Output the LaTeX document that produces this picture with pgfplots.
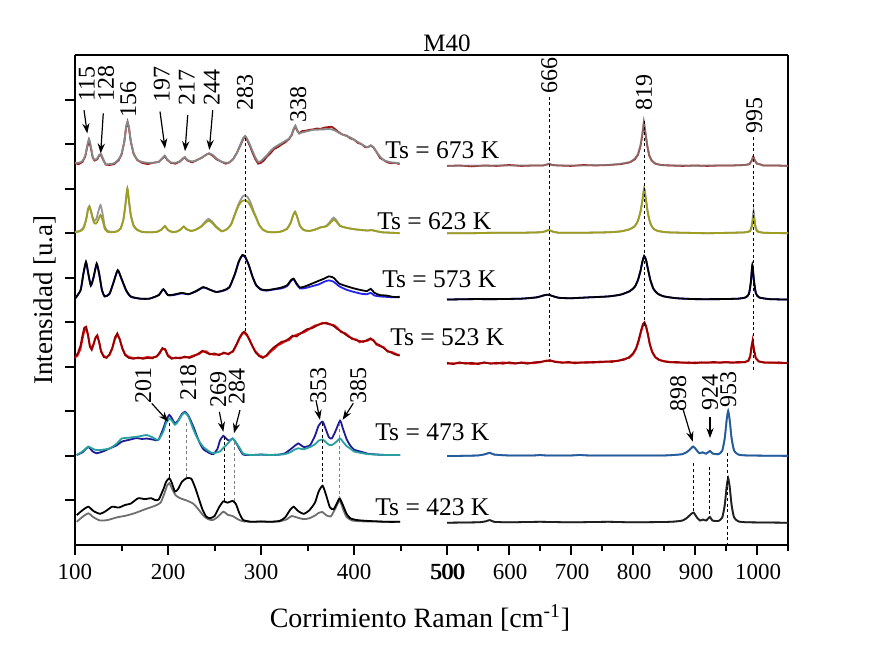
\documentclass[border=0pt]{standalone}
\usepackage{fontspec}
\setmainfont{Liberation Serif}
\usepackage{pgfplots}
\pgfplotsset{compat=1.18}
\usepackage{pgfplotstable}
\usetikzlibrary{arrows.meta}

\definecolor{cRedA}{RGB}{160,22,22}
\definecolor{cGreyA}{RGB}{135,135,135}
\definecolor{cOlive}{RGB}{158,158,32}
\definecolor{cGreyB}{RGB}{150,150,150}
\definecolor{cBlue}{RGB}{35,35,235}
\definecolor{cDarkRed}{RGB}{150,0,0}
\definecolor{cRed}{RGB}{228,25,25}
\definecolor{cNavy}{RGB}{28,28,150}
\definecolor{cTeal}{RGB}{40,160,160}
\definecolor{cGreyC}{RGB}{110,110,110}

% ---------- 673 K ----------
\pgfplotstableread{
x a b
100 8.57 8.58
104 8.55 8.58
108 8.60 8.62
111 8.72 8.74
113 8.92 8.95
115 9.08 9.12
117 8.92 8.96
119 8.70 8.72
121 8.63 8.65
124 8.66 8.68
126 8.74 8.76
128 8.76 8.78
130 8.66 8.68
133 8.54 8.55
137 8.53 8.55
142 8.55 8.57
147 8.64 8.66
150 8.76 8.78
153 9.05 9.05
155 9.38 9.40
156.5 9.50 9.50
158 9.36 9.38
160 9.05 9.08
163 8.78 8.80
167 8.64 8.65
172 8.58 8.60
178 8.55 8.58
184 8.58 8.58
190 8.60 8.60
194 8.68 8.68
196.5 8.73 8.74
199 8.65 8.66
203 8.58 8.59
208 8.56 8.58
213 8.61 8.62
216 8.67 8.68
218 8.70 8.71
221 8.63 8.64
226 8.59 8.61
231 8.64 8.64
236 8.69 8.69
241 8.76 8.76
244 8.79 8.79
248 8.74 8.76
252 8.66 8.68
257 8.61 8.61
262 8.56 8.58
266 8.59 8.59
270 8.66 8.66
274 8.80 8.80
278 8.98 9.00
281 9.12 9.14
283 9.17 9.18
285 9.10 9.12
288 8.96 8.99
291 8.80 8.84
294 8.66 8.70
297 8.56 8.60
300 8.58 8.62
303 8.63 8.68
306 8.71 8.74
310 8.79 8.84
314 8.89 8.92
318 8.93 8.97
322 8.99 9.02
326 9.04 9.07
330 9.11 9.12
333 9.20 9.22
335 9.32 9.34
337 9.40 9.41
339 9.30 9.31
341 9.24 9.24
344 9.29 9.26
348 9.30 9.28
352 9.32 9.30
356 9.33 9.32
360 9.35 9.32
364 9.34 9.33
368 9.37 9.33
372 9.38 9.34
376 9.39 9.33
380 9.33 9.30
384 9.26 9.25
388 9.21 9.21
392 9.19 9.18
396 9.13 9.15
400 9.10 9.10
404 9.03 9.05
408 9.00 9.00
412 8.93 8.95
415 8.93 8.93
418 8.97 8.97
421 8.92 8.93
424 8.83 8.83
428 8.69 8.72
432 8.64 8.64
436 8.59 8.61
440 8.57 8.59
444 8.58 8.58
449 8.55 8.57
}\tLa
\pgfplotstableread{
x a b
500 8.51 8.51
520 8.52 8.51
540 8.50 8.52
560 8.52 8.51
580 8.51 8.52
600 8.53 8.52
620 8.51 8.52
640 8.52 8.52
655 8.52 8.52
661 8.54 8.54
665 8.56 8.56
669 8.53 8.53
680 8.52 8.52
700 8.51 8.52
720 8.53 8.52
740 8.52 8.53
760 8.53 8.53
780 8.55 8.56
795 8.59 8.60
803 8.66 8.68
808 8.76 8.78
812 8.95 8.98
815 9.20 9.24
817.5 9.48 9.50
820 9.25 9.28
823 8.96 8.98
826 8.75 8.77
830 8.63 8.64
836 8.56 8.57
845 8.53 8.53
860 8.52 8.52
880 8.51 8.52
900 8.52 8.51
920 8.51 8.52
940 8.52 8.52
960 8.52 8.52
980 8.53 8.53
988 8.55 8.55
991 8.62 8.62
994 8.72 8.70
997 8.62 8.62
1000 8.56 8.56
1004 8.55 8.55
1010 8.52 8.52
1030 8.52 8.52
1050 8.51 8.51
}\tRa

% ---------- 623 K ----------
\pgfplotstableread{
x a b
100 7.02 7.03
105 7.04 7.05
109 7.10 7.12
112 7.30 7.32
114 7.52 7.55
115.5 7.59 7.61
117 7.50 7.52
119 7.32 7.36
121 7.22 7.28
123 7.22 7.32
125 7.30 7.48
127.5 7.41 7.63
130 7.26 7.40
132 7.10 7.15
135 7.03 7.05
140 7.02 7.03
145 7.04 7.04
149 7.10 7.11
152 7.30 7.30
154 7.60 7.60
156.3 8.00 8.00
158 7.72 7.74
160 7.40 7.42
163 7.16 7.18
167 7.07 7.08
172 7.03 7.03
180 7.02 7.02
188 7.03 7.03
193 7.08 7.08
196.6 7.16 7.16
200 7.07 7.07
205 7.02 7.03
210 7.04 7.04
214 7.09 7.09
217 7.15 7.15
220 7.09 7.09
225 7.05 7.05
230 7.08 7.08
236 7.15 7.16
240 7.23 7.26
243.5 7.28 7.32
247 7.24 7.27
252 7.13 7.15
258 7.04 7.05
264 7.10 7.10
268 7.20 7.21
272 7.42 7.44
276 7.62 7.66
279 7.71 7.78
281 7.73 7.84
283 7.74 7.85
286 7.70 7.80
289 7.60 7.68
292 7.46 7.50
295 7.33 7.35
298 7.18 7.19
302 7.08 7.08
307 7.03 7.03
315 7.02 7.02
322 7.04 7.04
328 7.10 7.10
332 7.24 7.24
334.5 7.40 7.40
336.6 7.48 7.48
339 7.36 7.36
342 7.16 7.16
346 7.07 7.07
352 7.05 7.05
358 7.08 7.08
364 7.13 7.13
370 7.15 7.16
374 7.22 7.25
378 7.30 7.35
381 7.26 7.29
385 7.16 7.17
392 7.12 7.12
400 7.09 7.09
408 7.07 7.07
415 7.06 7.06
419 7.07 7.07
423 7.05 7.05
430 7.02 7.02
440 7.01 7.01
449 7.00 7.00
}\tLb
\pgfplotstableread{
x a b
500 7.00 7.00
540 7.00 7.00
580 7.01 7.01
620 7.01 7.01
650 7.02 7.02
658 7.04 7.04
664 7.07 7.07
670 7.04 7.04
680 7.01 7.01
720 7.01 7.01
760 7.02 7.02
780 7.04 7.04
795 7.09 7.09
803 7.16 7.16
808 7.28 7.28
812 7.48 7.48
815 7.72 7.72
818 8.00 8.00
821 7.74 7.74
824 7.45 7.45
828 7.22 7.22
833 7.10 7.10
840 7.05 7.05
855 7.02 7.02
880 7.01 7.01
920 7.00 7.00
960 7.01 7.01
982 7.02 7.02
989 7.05 7.06
992 7.16 7.22
994.5 7.35 7.50
997 7.16 7.20
1000 7.04 7.06
1010 7.01 7.01
1050 7.00 7.00
}\tRb

% ---------- 573 K ----------
\pgfplotstableread{
x a b
100 5.53 5.53
106 5.72 5.72
109 6.09 6.08
111.8 6.36 6.34
114 6.13 6.12
117 5.83 5.82
120 6.02 6.00
123.3 6.32 6.30
126 6.09 6.08
129 5.72 5.72
132 5.58 5.58
137 5.64 5.63
141 5.87 5.86
145.9 6.17 6.16
150 5.98 5.97
155 5.72 5.71
160 5.58 5.57
170 5.53 5.53
180 5.53 5.53
190 5.61 5.61
195 5.74 5.74
200 5.61 5.61
206 5.62 5.61
215 5.66 5.65
222 5.63 5.63
230 5.70 5.69
238 5.79 5.78
244 5.74 5.74
252 5.68 5.68
260 5.72 5.71
266 5.79 5.78
272 6.09 6.08
276 6.36 6.35
280 6.51 6.50
283 6.47 6.46
287 6.28 6.27
291 6.02 6.01
295 5.83 5.82
300 5.74 5.73
306 5.72 5.71
315 5.75 5.74
322 5.78 5.76
328 5.83 5.81
332 5.94 5.92
335 5.98 5.97
338 5.88 5.86
342 5.78 5.76
348 5.81 5.77
355 5.87 5.81
362 5.93 5.85
368 5.98 5.91
373 6.03 5.94
378 6.00 5.91
384 5.87 5.81
392 5.81 5.73
400 5.76 5.68
408 5.72 5.64
414 5.70 5.63
418 5.75 5.66
422 5.66 5.60
428 5.61 5.58
435 5.60 5.57
442 5.57 5.56
449 5.57 5.56
}\tLc
\pgfplotstableread{
x a b
500 5.51 5.51
540 5.52 5.52
580 5.52 5.52
620 5.53 5.53
645 5.56 5.56
655 5.60 5.60
663 5.62 5.62
670 5.59 5.59
680 5.55 5.55
700 5.54 5.54
730 5.56 5.56
760 5.58 5.58
780 5.62 5.62
795 5.70 5.70
803 5.80 5.80
808 5.95 5.95
812 6.15 6.15
815 6.35 6.35
818 6.49 6.48
821 6.40 6.40
824 6.20 6.20
828 5.95 5.95
833 5.75 5.75
840 5.64 5.64
850 5.58 5.58
870 5.54 5.54
900 5.52 5.52
940 5.52 5.52
970 5.53 5.53
982 5.56 5.56
987 5.64 5.64
990 5.90 5.88
992.5 6.29 6.27
995 5.95 5.93
998 5.66 5.66
1003 5.56 5.56
1020 5.52 5.52
1050 5.51 5.51
}\tRc

% ---------- 523 K ----------
\pgfplotstableread{
x a b
100 4.22 4.20
103 4.30 4.26
106 4.48 4.40
108 4.70 4.62
110 4.88 4.80
112 4.90 4.86
114 4.72 4.70
116 4.45 4.48
118 4.38 4.42
120 4.50 4.52
122 4.66 4.64
124 4.71 4.68
126 4.55 4.56
128 4.34 4.36
131 4.22 4.24
134 4.20 4.22
137 4.28 4.26
140 4.42 4.40
143 4.66 4.62
145.5 4.75 4.72
148 4.62 4.63
151 4.40 4.42
154 4.26 4.28
158 4.20 4.22
163 4.18 4.20
168 4.21 4.19
173 4.18 4.20
178 4.20 4.22
183 4.19 4.21
188 4.24 4.23
191 4.32 4.30
194 4.42 4.40
197 4.38 4.40
200 4.24 4.26
204 4.18 4.20
208 4.21 4.19
213 4.19 4.21
218 4.23 4.21
223 4.20 4.22
228 4.24 4.26
233 4.30 4.28
237 4.36 4.34
241 4.32 4.35
245 4.28 4.29
250 4.30 4.27
255 4.26 4.28
260 4.32 4.30
265 4.28 4.30
270 4.36 4.34
274 4.52 4.50
277 4.66 4.64
280 4.76 4.74
282 4.79 4.76
285 4.72 4.70
288 4.58 4.60
291 4.45 4.46
294 4.33 4.35
298 4.24 4.26
302 4.20 4.22
306 4.26 4.24
310 4.36 4.33
314 4.44 4.40
318 4.50 4.48
322 4.56 4.52
326 4.58 4.57
330 4.63 4.60
334 4.70 4.68
338 4.68 4.72
342 4.74 4.75
346 4.80 4.77
350 4.85 4.82
354 4.86 4.88
358 4.90 4.93
362 4.95 4.94
366 4.97 4.99
370 4.99 4.97
374 4.96 4.95
378 4.92 4.94
382 4.85 4.88
386 4.80 4.78
390 4.74 4.76
394 4.68 4.70
398 4.64 4.62
402 4.60 4.62
406 4.58 4.55
410 4.56 4.58
414 4.60 4.58
418 4.64 4.62
421 4.58 4.60
424 4.52 4.50
428 4.48 4.46
432 4.42 4.44
436 4.36 4.34
440 4.32 4.34
444 4.28 4.30
449 4.25 4.26
}\tLd
\pgfplotstableread{
x a b
500 4.09 4.07
510 4.06 4.08
520 4.10 4.08
530 4.07 4.09
540 4.09 4.06
550 4.06 4.08
560 4.10 4.09
570 4.07 4.08
580 4.09 4.07
590 4.07 4.10
600 4.10 4.08
610 4.08 4.07
620 4.09 4.10
630 4.07 4.09
640 4.10 4.08
650 4.11 4.10
660 4.13 4.14
666 4.15 4.13
674 4.11 4.12
686 4.09 4.10
696 4.11 4.09
706 4.08 4.10
716 4.10 4.09
726 4.09 4.11
736 4.11 4.09
746 4.10 4.12
756 4.12 4.11
766 4.11 4.13
776 4.14 4.13
786 4.16 4.18
794 4.22 4.20
800 4.30 4.28
805 4.42 4.40
809 4.60 4.56
813 4.82 4.78
816 4.96 4.92
818.5 5.00 4.96
821 4.92 4.90
824 4.74 4.72
827 4.52 4.50
831 4.34 4.32
836 4.22 4.21
842 4.16 4.15
850 4.12 4.13
860 4.10 4.11
870 4.11 4.09
880 4.09 4.10
890 4.10 4.08
900 4.08 4.10
910 4.10 4.09
920 4.09 4.10
930 4.11 4.09
940 4.09 4.10
950 4.10 4.11
960 4.09 4.10
970 4.11 4.09
980 4.10 4.11
986 4.14 4.13
989 4.24 4.22
991 4.45 4.40
993 4.60 4.55
995 4.40 4.38
998 4.20 4.19
1003 4.12 4.12
1012 4.10 4.09
1022 4.09 4.10
1035 4.10 4.08
1050 4.08 4.09
}\tRd

% ---------- 473 K ----------
\pgfplotstableread{
x a b
101.8 2.02 2.02
108 2.08 2.10
114.3 2.20 2.21
119 2.10 2.16
123.3 2.06 2.13
130 2.10 2.14
137.6 2.17 2.17
145 2.24 2.28
150.2 2.32 2.39
158 2.36 2.41
166.3 2.40 2.43
172 2.38 2.45
177.1 2.39 2.47
183 2.37 2.42
189.6 2.36 2.36
195 2.62 2.55
198 2.80 2.74
201.4 2.92 2.84
204 2.85 2.80
207.5 2.73 2.70
211 2.80 2.78
215 2.94 2.92
218.3 2.99 2.97
222 2.90 2.88
227.2 2.66 2.60
231 2.45 2.42
234.4 2.28 2.30
238 2.15 2.20
241.6 2.10 2.14
245 2.06 2.09
248.7 2.04 2.06
253 2.15 2.08
256 2.35 2.10
259.5 2.45 2.18
263 2.38 2.25
266 2.34 2.32
269.5 2.39 2.39
273 2.30 2.30
277 2.15 2.18
281 2.03 2.05
290 2.02 2.02
300 2.03 2.03
310 2.02 2.02
320 2.03 2.03
326 2.06 2.04
331.2 2.14 2.08
336 2.22 2.14
340.1 2.28 2.17
346 2.20 2.15
352.7 2.24 2.20
358 2.45 2.26
362 2.68 2.34
366.3 2.77 2.37
370 2.58 2.30
373 2.42 2.25
376 2.39 2.24
380 2.55 2.30
385 2.79 2.39
388 2.62 2.32
392 2.38 2.22
395.7 2.24 2.17
400 2.14 2.10
406.5 2.10 2.07
415 2.05 2.04
425 2.03 2.03
435 2.02 2.02
449.5 2.02 2.02
}\tLe
\pgfplotstableread{
x a b
500 2.00 2.00
520 2.00 2.00
550 2.01 2.01
562 2.04 2.04
569 2.07 2.07
576 2.03 2.03
600 2.01 2.01
640 2.01 2.01
650 2.02 2.02
660 2.01 2.01
700 2.01 2.01
714 2.02 2.02
730 2.01 2.01
780 2.01 2.01
850 2.01 2.01
880 2.04 2.04
890 2.12 2.12
897 2.21 2.20
902 2.14 2.14
907 2.06 2.06
912 2.08 2.08
918 2.05 2.05
924 2.11 2.10
929 2.05 2.05
938 2.04 2.04
944 2.12 2.12
948 2.40 2.40
951 2.80 2.79
953.5 3.01 3.00
956 2.80 2.79
959 2.40 2.40
963 2.12 2.12
970 2.03 2.03
985 2.01 2.01
1050 2.00 2.00
}\tRe

% ---------- 423 K ----------
\pgfplotstableread{
x a
101.8 0.67
108 0.78
114.3 0.86
120 0.76
127 0.70
133 0.76
140 0.86
147 0.84
154 0.90
160 0.93
168 1.05
175 1.03
182 1.05
186 1.01
190 1.02
195 1.25
198 1.42
201.4 1.50
204 1.40
207.5 1.20
211 1.26
215 1.42
220 1.50
225 1.49
229 1.30
233 1.05
237 0.80
241 0.64
245 0.60
250 0.65
255 0.85
259.5 0.98
264 0.95
269.5 0.99
273 0.92
277 0.70
281 0.56
290 0.52
300 0.53
310 0.52
320 0.54
326 0.62
331 0.78
335 0.86
340 0.76
346 0.70
352 0.78
358 0.95
362 1.20
366.3 1.33
370 1.12
374 0.85
378 0.80
382 0.95
384.5 1.05
388 0.90
392 0.70
396 0.60
403 0.56
415 0.54
425 0.53
435 0.52
449.5 0.52
}\tLfa
\pgfplotstableread{
x b
101.8 0.52
108 0.63
114.3 0.71
120 0.62
127 0.55
135 0.56
145 0.62
155 0.66
165 0.72
175 0.80
186 0.88
192 0.95
196 1.15
199 1.33
201.4 1.39
204 1.28
208 1.12
213 1.05
220 1.00
227 0.93
232 0.82
238 0.66
243 0.58
248 0.56
253 0.62
259.5 0.75
264 0.68
269.5 0.65
275 0.58
281 0.53
300 0.52
320 0.53
328 0.58
333 0.65
340 0.61
346 0.58
352 0.60
358 0.66
362 0.72
366 0.74
370 0.67
375 0.64
380 0.82
384.5 1.00
388 0.82
392 0.63
398 0.55
410 0.53
449.5 0.52
}\tLfb
\pgfplotstableread{
x a b
500 0.50 0.50
550 0.51 0.51
562 0.53 0.53
569 0.56 0.56
576 0.52 0.52
600 0.51 0.51
650 0.52 0.52
700 0.51 0.51
760 0.52 0.52
800 0.51 0.51
860 0.52 0.52
880 0.55 0.55
888 0.62 0.62
894 0.70 0.70
898 0.72 0.73
903 0.62 0.62
908 0.55 0.55
913 0.57 0.57
918 0.55 0.55
924 0.63 0.63
928 0.55 0.55
938 0.54 0.54
944 0.62 0.62
948 0.90 0.90
951 1.30 1.30
953.5 1.50 1.50
956 1.30 1.30
959 0.90 0.90
963 0.62 0.62
970 0.53 0.53
985 0.51 0.51
1050 0.50 0.50
}\tRf

\pgfplotsset{
  ramanaxis/.style={
    scale only axis, height=245pt, ymin=0, ymax=11, clip=false,
    axis x line*=box,
    axis line style={line width=1pt,-},
    every outer x axis line/.append style={-},
    every outer y axis line/.append style={-},
    tick style={line width=1pt, black},
    tick align=outside,
    major tick length=5pt, minor tick length=3pt,
    xtick pos=left,
    tick label style={font=\fontsize{11.5}{13}\selectfont},
    /pgf/number format/assume math mode=true,
    /pgf/number format/1000 sep={},
    xticklabel style={yshift=-1pt},
  },
  spec/.style={line width=0.9pt, smooth, tension=0.35},
  noisy/.style={line width=0.9pt},
}
\tikzset{
  pk/.style={rotate=90, inner sep=0pt, font=\fontsize{12}{13}\selectfont},
  ts/.style={anchor=west, inner sep=0pt, font=\fontsize{12.75}{14}\selectfont},
  dl/.style={line width=0.5pt, dash pattern=on 1.5pt off 1.3pt},
  ar/.style={line width=0.6pt, -{Stealth[length=5pt,width=3.6pt]}},
}

\begin{document}
\begin{tikzpicture}
\path[use as bounding box] (-37.5pt,-61.5pt) rectangle (401.5pt,272.5pt);

% ================= left panel: 100 - 500 cm^-1 =================
\begin{axis}[ramanaxis, name=L, at={(0,0)}, anchor=south west,
  width=186pt, xmin=100, xmax=500,
  axis y line*=left, ytick pos=left,
  xtick={100,200,300,400,500}, minor xtick={150,250,350,450},
  ytick={1,...,10}, yticklabels={}]
  \addplot[noisy, cRedA]  table[x=x,y=a] {\tLa};
  \addplot[spec, cGreyA]  table[x=x,y=b] {\tLa};
  \addplot[spec, cGreyB]  table[x=x,y=b] {\tLb};
  \addplot[spec, cOlive]  table[x=x,y=a] {\tLb};
  \addplot[spec, cBlue]   table[x=x,y=b] {\tLc};
  \addplot[spec, black]   table[x=x,y=a] {\tLc};
  \addplot[noisy, cRed]    table[x=x,y=b] {\tLd};
  \addplot[noisy, cDarkRed] table[x=x,y=a] {\tLd};
  \addplot[spec, cNavy]   table[x=x,y=a] {\tLe};
  \addplot[spec, cTeal]   table[x=x,y=b] {\tLe};
  \addplot[spec, cGreyC]  table[x=x,y=b] {\tLfb};
  \addplot[spec, black]   table[x=x,y=a] {\tLfa};

  % reference lines
  \draw[dl] (axis cs:282.8,9.14) -- (axis cs:282.8,4.79);
  \draw[dl] (axis cs:201.4,2.73) -- (axis cs:201.4,1.50);
  \draw[dl, gray] (axis cs:220,2.73) -- (axis cs:220,1.50);
  \draw[dl] (axis cs:260.6,2.43) -- (axis cs:260.6,0.97);
  \draw[dl, gray] (axis cs:271,2.32) -- (axis cs:271,0.97);
  \draw[dl] (axis cs:366,2.73) -- (axis cs:366,1.33);
  \draw[dl, gray] (axis cs:384.5,2.73) -- (axis cs:384.5,1.05);

  % band positions
  \node[pk] at (axis cs:112.6,10.35) {115};
  \node[pk] at (axis cs:133.3,10.35) {128};
  \node[pk] at (axis cs:157.3,9.99) {156};
  \node[pk] at (axis cs:193.2,10.33) {197};
  \node[pk] at (axis cs:220.1,10.28) {217};
  \node[pk] at (axis cs:247,10.28) {244};
  \node[pk] at (axis cs:282.8,10.16) {283};
  \node[pk] at (axis cs:340.1,9.88) {338};
  \draw[ar] (axis cs:109.7,9.76) -- (axis cs:113.2,9.24);
  \draw[ar] (axis cs:130.4,9.69) -- (axis cs:127.6,8.79);
  \draw[ar] (axis cs:191.4,9.73) -- (axis cs:196.8,8.90);
  \draw[ar] (axis cs:221.2,9.65) -- (axis cs:218.3,8.84);
  \draw[ar] (axis cs:248.1,9.76) -- (axis cs:244.4,8.87);

  \node[pk] at (axis cs:173.4,3.59) {201};
  \node[pk] at (axis cs:221.8,3.64) {218};
  \node[pk] at (axis cs:254.1,3.48) {269};
  \node[pk] at (axis cs:273.9,3.55) {284};
  \node[pk] at (axis cs:361.6,3.59) {353};
  \node[pk] at (axis cs:404.6,3.57) {385};
  \draw[ar] (axis cs:182.5,3.18) -- (axis cs:200.3,2.77);
  \draw[ar] (axis cs:255.2,2.99) -- (axis cs:259.5,2.54);
  \draw[ar] (axis cs:277.4,3.03) -- (axis cs:271,2.51);
  \draw[ar] (axis cs:359.1,3.25) -- (axis cs:363.4,2.81);
  \draw[ar] (axis cs:399.2,3.18) -- (axis cs:387.8,2.81);

  % temperature labels
  \node[ts] at (axis cs:433.3,8.87) {Ts = 673 K};
  \node[ts] at (axis cs:424.7,7.27) {Ts = 623 K};
  \node[ts] at (axis cs:430,5.97) {Ts = 573 K};
  \node[ts] at (axis cs:438.7,4.67) {Ts = 523 K};
  \node[ts] at (axis cs:422.6,2.54) {Ts = 473 K};
  \node[ts] at (axis cs:422.6,0.85) {Ts = 423 K};

  \node[font=\fontsize{12.5}{14}\selectfont] at (axis cs:500,11.27) {M40};
\end{axis}

% ================= right panel: 500 - 1050 cm^-1 =================
\begin{axis}[ramanaxis, name=R, at={(186pt,0)}, anchor=south west,
  width=170.5pt, xmin=500, xmax=1050,
  axis y line*=right, ytick=\empty,
  xtick={500,600,...,1000}, minor xtick={550,650,...,1050},
  xticklabel style={xshift=0.5pt}]
  \addplot[noisy, cRedA]  table[x=x,y=a] {\tRa};
  \addplot[spec, cGreyA, opacity=0.7]  table[x=x,y=b] {\tRa};
  \addplot[spec, cGreyB]  table[x=x,y=b] {\tRb};
  \addplot[spec, cOlive]  table[x=x,y=a] {\tRb};
  \addplot[spec, cBlue]   table[x=x,y=b] {\tRc};
  \addplot[spec, black]   table[x=x,y=a] {\tRc};
  \addplot[noisy, cRed]    table[x=x,y=b] {\tRd};
  \addplot[noisy, cDarkRed] table[x=x,y=a] {\tRd};
  \addplot[spec, cNavy]   table[x=x,y=a] {\tRe};
  \addplot[spec, cTeal, opacity=0.5] table[x=x,y=b] {\tRe};
  \addplot[spec, cGreyC]  table[x=x,y=b] {\tRf};
  \addplot[spec, black, opacity=0.7] table[x=x,y=a] {\tRf};

  \draw[dl] (axis cs:665,10.06) -- (axis cs:665,4.11);
  \draw[dl] (axis cs:818,9.52) -- (axis cs:818,4.9);
  \draw[dl] (axis cs:995,9.16) -- (axis cs:995,3.88);
  \draw[dl] (axis cs:897,1.83) -- (axis cs:897,0.72);
  \draw[dl] (axis cs:924,1.76) -- (axis cs:924,0.63);
  \draw[dl] (axis cs:953,2.06) -- (axis cs:953,0);

  \node[pk] at (axis cs:665,10.55) {666};
  \node[pk] at (axis cs:817.7,10.16) {819};
  \node[pk] at (axis cs:995.6,9.65) {995};
  \node[pk] at (axis cs:873.1,3.41) {898};
  \node[pk] at (axis cs:924.2,3.43) {924};
  \node[pk] at (axis cs:953.7,3.48) {953};
  \draw[ar] (axis cs:881.1,3.03) -- (axis cs:896.3,2.32);
  \draw[ar] (axis cs:924.2,2.88) -- (axis cs:924.2,2.40);
\end{axis}

\node[font=\fontsize{14}{16}\selectfont] at (172.5pt,-36.5pt) {Corrimiento Raman [cm\textsuperscript{-1}]};
\node[rotate=90, font=\fontsize{13.5}{15}\selectfont] at (-15pt,122.5pt) {Intensidad [u.a]};
\end{tikzpicture}
\end{document}
